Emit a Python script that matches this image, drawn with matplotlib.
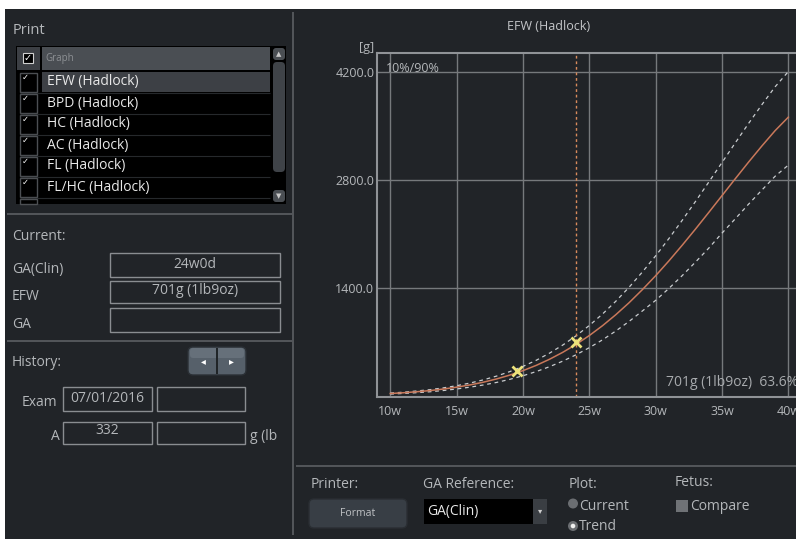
import matplotlib
matplotlib.use('Agg')
import matplotlib.pyplot as plt
from matplotlib.patches import Rectangle, FancyBboxPatch, Circle

# ---------------- data ----------------
weeks = list(range(10, 41))
efw_mean = [35, 45, 58, 73, 93, 117, 146, 181, 223, 273, 331, 399, 478, 568, 670,
            785, 913, 1055, 1210, 1379, 1559, 1751, 1953, 2162, 2377, 2595, 2813,
            3028, 3236, 3435, 3610]
efw_p90 = [41, 52, 68, 85, 108, 136, 170, 211, 260, 318, 386, 465, 557, 662, 781,
           915, 1064, 1229, 1410, 1607, 1816, 2040, 2275, 2519, 2769, 3023, 3277,
           3528, 3770, 4002, 4200]
efw_p10 = [28, 36, 46, 58, 74, 94, 117, 145, 178, 218, 265, 319, 382, 454, 536,
           628, 730, 844, 968, 1103, 1240, 1395, 1560, 1735, 1915, 2110, 2295,
           2484, 2666, 2845, 2990]
exam_ga = [19.57, 24.0]
exam_efw = [332, 701]
current_ga = 24.0
x_ticks = [10, 15, 20, 25, 30, 35, 40]
x_labels = ['10w', '15w', '20w', '25w', '30w', '35w', '40w']
y_ticks = [1400, 2800, 4200]
y_labels = ['1400.0', '2800.0', '4200.0']
list_items = ['EFW (Hadlock)', 'BPD (Hadlock)', 'HC (Hadlock)', 'AC (Hadlock)',
              'FL (Hadlock)', 'FL/HC (Hadlock)']

# ---------------- style ----------------
W, H = 796, 539
BG = '#212428'
SEP = '#5c5f63'
TXT = '#b4b7ba'
WHITE = '#e8e8e8'
BOXE = '#8a8d91'
FONT = ['Open Sans', 'DejaVu Sans']
plt.rcParams['font.family'] = FONT

fig = plt.figure(figsize=(W / 100, H / 100), dpi=100)
fig.patch.set_facecolor('white')
ui = fig.add_axes([0, 0, 1, 1])
ui.set_xlim(0, W)
ui.set_ylim(H, 0)
ui.axis('off')


def R(x0, y0, x1, y1, fc='none', ec='none', lw=1, z=1):
    ui.add_patch(Rectangle((x0, y0), x1 - x0, y1 - y0, facecolor=fc, edgecolor=ec, lw=lw, zorder=z))


def RR(x0, y0, x1, y1, fc, ec='none', r=3, z=2, lw=1):
    ui.add_patch(FancyBboxPatch((x0 + r, y0 + r), x1 - x0 - 2 * r, y1 - y0 - 2 * r,
                                boxstyle='round,pad=%g' % r, facecolor=fc, edgecolor=ec, lw=lw, zorder=z))


def T(x, y, s, size=10, color=TXT, ha='left', va='center', z=5, **kw):
    ui.text(x, y, s, fontsize=size, color=color, ha=ha, va=va, zorder=z, **kw)


def L(x0, y0, x1, y1, color=SEP, lw=1.2, z=3):
    ui.plot([x0, x1], [y0, y1], color=color, lw=lw, zorder=z, solid_capstyle='butt')


# dark panel
R(5, 9, W, H, fc=BG, z=0)
# panel separators
L(293, 12, 293, 535)
L(7, 214, 292, 214)
L(7, 341, 292, 341)
L(296, 466, W, 466)

# ---------------- left panel ----------------
T(13, 31, 'Print', 10.5)
R(16, 46, 286, 204, fc='#000000', z=1)
# header
R(17, 47, 40, 70, fc='#3c3f44', z=2)
R(42, 47, 270, 70, fc='#4a4e53', z=2)
R(23, 53, 33, 63, fc='#000000', ec='#d0d0d0', lw=0.8, z=3)
T(28, 58, '\u2713', 7, color='#ffffff', ha='center', family=['DejaVu Sans'])
T(45, 59, 'Graph', 7, color='#8d9094')
# rows
row_top = 72
row_h = 21
for i, name in enumerate(list_items):
    y0 = row_top + i * row_h
    if i == 0:
        R(42, y0, 270, y0 + row_h - 1, fc='#3d4045', z=2)
    R(20, y0 + 1, 37, y0 + row_h - 1, fc='#000000', ec='#4c4f53', lw=1, z=3)
    T(25, y0 + 5, '\u2713', 6, color='#ffffff', ha='center', family=['DejaVu Sans'])
    L(20, y0 + row_h, 270, y0 + row_h, color='#26292c', lw=0.8)
    T(47, y0 + 10, name, 10, color=WHITE)
# partial next row
R(20, 199, 37, 204, fc='#000000', ec='#4c4f53', lw=1, z=3)
# scrollbar
RR(273, 48, 285, 60, fc='#4a4e53', r=3)
T(279, 54, '\u25b2', 5, color='#c8c8c8', ha='center', family=['DejaVu Sans'])
RR(273, 62, 285, 172, fc='#3f4348', r=4)
RR(273, 190, 285, 202, fc='#4a4e53', r=3)
T(279, 196, '\u25bc', 5, color='#c8c8c8', ha='center', family=['DejaVu Sans'])

# current section
T(12, 237, 'Current:', 10)
boxes = [(253, 277, 'GA(Clin)', '24w0d'), (281, 303, 'EFW', '701g (1lb9oz)'), (308, 332, 'GA', '')]
for y0, y1, lab, val in boxes:
    R(110, y0, 280, y1, fc=BG, ec=BOXE, lw=1, z=2)
    T(12, (y0 + y1) / 2 + 4, lab, 10)
    if val:
        T(195, (y0 + y1) / 2 - 1, val, 10, ha='center')

# history section
T(12, 363, 'History:', 10)
RR(188, 347, 246, 375, fc='#56606a', ec='#2b3036', r=5)
RR(190, 348, 244, 358, fc='#66707a', r=3, z=3)
L(217, 348, 217, 374, color='#1f2326', lw=1.4, z=4)
T(203, 361, '\u25c2', 7, color='#ffffff', ha='center', family=['DejaVu Sans'])
T(231, 361, '\u25b8', 7, color='#ffffff', ha='center', family=['DejaVu Sans'])
T(22, 402, 'Exam', 10)
R(63, 387, 152, 411, fc=BG, ec=BOXE, lw=1, z=2)
R(157, 387, 245, 411, fc=BG, ec=BOXE, lw=1, z=2)
T(107, 399, '07/01/2016', 10, ha='center')
T(51, 437, 'A', 10)
R(63, 422, 152, 444, fc=BG, ec=BOXE, lw=1, z=2)
R(157, 422, 245, 444, fc=BG, ec=BOXE, lw=1, z=2)
T(107, 431, '332', 10, ha='center')
T(250, 437, 'g (lb', 10)

# ---------------- chart ----------------
T(549, 27, 'EFW (Hadlock)', 9, color='#c4c6c9', ha='center')
T(374, 47, '[g]', 9, ha='right')

ax_left, ax_right, ax_top, ax_bot = 377, 801.6, 53, 397
ax = fig.add_axes([ax_left / W, 1 - ax_bot / H, (ax_right - ax_left) / W, (ax_bot - ax_top) / H])
ax.set_facecolor(BG)
ax.set_xlim(9, 41)
ax.set_ylim(-10, 4440)
ax.set_xticks(x_ticks, x_labels)
ax.set_yticks(y_ticks, y_labels)
ax.grid(True, color='#76797c', lw=1)
ax.set_axisbelow(True)
ax.tick_params(length=0, colors=TXT, labelsize=9)
ax.tick_params(axis='x', pad=6)
ax.tick_params(axis='y', pad=2)
for s in ['left', 'bottom', 'top']:
    ax.spines[s].set_color('#909397')
    ax.spines[s].set_linewidth(1.5)
ax.spines['right'].set_visible(False)

ax.plot(weeks, efw_p90, color='#c9cccf', lw=0.9, dashes=(3, 3))
ax.plot(weeks, efw_p10, color='#c9cccf', lw=0.9, dashes=(3, 3))
ax.plot(weeks, efw_mean, color='#c9785a', lw=1.1)
ax.axvline(current_ga, color='#d98b5c', lw=1, dashes=(2, 2))
ax.plot(exam_ga, exam_efw, ls='none', marker='x', ms=7, mew=2, color='#ece27a', zorder=5)

ax.text(386, 68, '10%/90%', fontsize=9, color=TXT, ha='left', va='center',
        transform=ui.transData, zorder=6)
ax.text(666, 382, '701g (1lb9oz)  63.6%', fontsize=10, color='#a8abae', ha='left',
        va='center', transform=ui.transData, zorder=6)

# ---------------- bottom controls ----------------
T(311, 484, 'Printer:', 10)
RR(309, 499, 407, 528, fc='#383e45', ec='#2a2e33', r=5)
T(358, 513, 'Format', 7.5, color='#c0c3c6', ha='center')
T(423, 484, 'GA Reference:', 10)
R(424, 499, 533, 524, fc='#000000', z=2)
R(533, 499, 547, 524, fc='#3a3e43', z=2)
T(540, 511, '\u25be', 6, color='#d0d0d0', ha='center', family=['DejaVu Sans'])
T(427, 511, 'GA(Clin)', 10, color=WHITE)
T(569, 484, 'Plot:', 10)
ui.add_patch(Circle((573, 503.5), 5, facecolor='#6b6e72', edgecolor='none', zorder=3))
T(579, 506, 'Current', 10)
ui.add_patch(Circle((573, 526), 5, facecolor='#6b6e72', edgecolor='none', zorder=3))
ui.add_patch(Circle((573, 526), 2.3, facecolor='#f0f0f0', edgecolor='none', zorder=4))
T(579, 527, 'Trend', 10)
T(675, 482, 'Fetus:', 10)
R(676, 500, 688, 512, fc='#6f7276', z=3)
T(690, 506, 'Compare', 10)

fig.savefig('out.png', dpi=100, facecolor=fig.get_facecolor())
